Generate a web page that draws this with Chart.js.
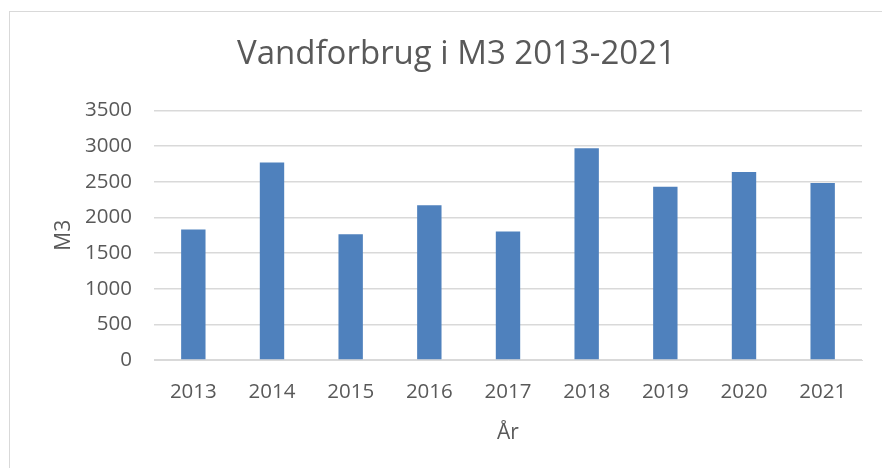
<!DOCTYPE html>
<html lang="da">
  <head>
    <meta charset="UTF-8" />
    <title>Vandforbrug i M3 2013-2021</title>
    <script src="https://cdn.jsdelivr.net/npm/chart.js"></script>
    <style>
      html, body {
        margin: 0;
        padding: 0;
        width: 882px;
        height: 468px;
        overflow: hidden;
        background: #fff;
      }
      .frame {
        position: absolute;
        left: 9px;
        top: 11px;
        width: 900px;
        height: 500px;
        border: 1px solid #d9d9d9;
      }
      .wrap {
        position: absolute;
        left: 0;
        top: 0;
        width: 882px;
        height: 468px;
      }
    </style>
  </head>
  <body>
    <div class="frame"></div>
    <div class="wrap"><canvas id="waterChart" width="882" height="468"></canvas></div>

    <script>
      // data
      const years = ["2013", "2014", "2015", "2016", "2017", "2018", "2019", "2020", "2021"];
      const usage = [1830, 2770, 1765, 2170, 1805, 2970, 2430, 2640, 2485];
      const yTicks = [0, 500, 1000, 1500, 2000, 2500, 3000, 3500];

      const textColor = "#595959";
      const gridColor = "#d9d9d9";
      const font = "'Open Sans', sans-serif";

      const ctx = document.getElementById("waterChart").getContext("2d");

      new Chart(ctx, {
        type: "bar",
        data: {
          labels: years,
          datasets: [
            {
              label: "M3",
              data: usage,
              backgroundColor: "#4f81bd",
              barPercentage: 0.31,
              categoryPercentage: 1,
            },
          ],
        },
        options: {
          responsive: false,
          animation: false,
          layout: {
            autoPadding: false,
            padding: { left: 51, right: 20, top: 0, bottom: 14 },
          },
          plugins: {
            legend: { display: false },
            tooltip: { enabled: false },
            title: {
              display: true,
              text: "Vandforbrug i M3 2013-2021",
              color: textColor,
              font: { family: font, size: 33, weight: "normal", lineHeight: 1.2 },
              padding: { top: 35, bottom: 36 },
            },
          },
          scales: {
            x: {
              grid: { display: false, drawTicks: false },
              border: { display: true, color: gridColor, width: 1 },
              ticks: {
                color: textColor,
                font: { family: font, size: 20.5 },
                padding: 20,
                maxRotation: 0,
                autoSkip: false,
              },
              title: {
                display: true,
                text: "År",
                color: textColor,
                font: { family: font, size: 21 },
                padding: { top: 0, bottom: 8 },
              },
              afterFit: (axis) => {
                axis.height = 94;
              },
            },
            y: {
              min: 0,
              max: 3500,
              afterBuildTicks: (axis) => {
                axis.ticks = yTicks.map((v) => ({ value: v }));
              },
              grid: { color: gridColor, lineWidth: 1.5, drawTicks: false },
              border: { display: false },
              ticks: {
                color: textColor,
                font: { family: font, size: 20.5 },
                padding: 22,
                callback: (v) => String(v),
              },
              title: {
                display: true,
                text: "M3",
                color: textColor,
                font: { family: font, size: 21 },
                padding: { top: 0, bottom: 0 },
              },
              afterFit: (axis) => {
                axis.width = 103;
              },
            },
          },
        },
      });
    </script>
  </body>
</html>
